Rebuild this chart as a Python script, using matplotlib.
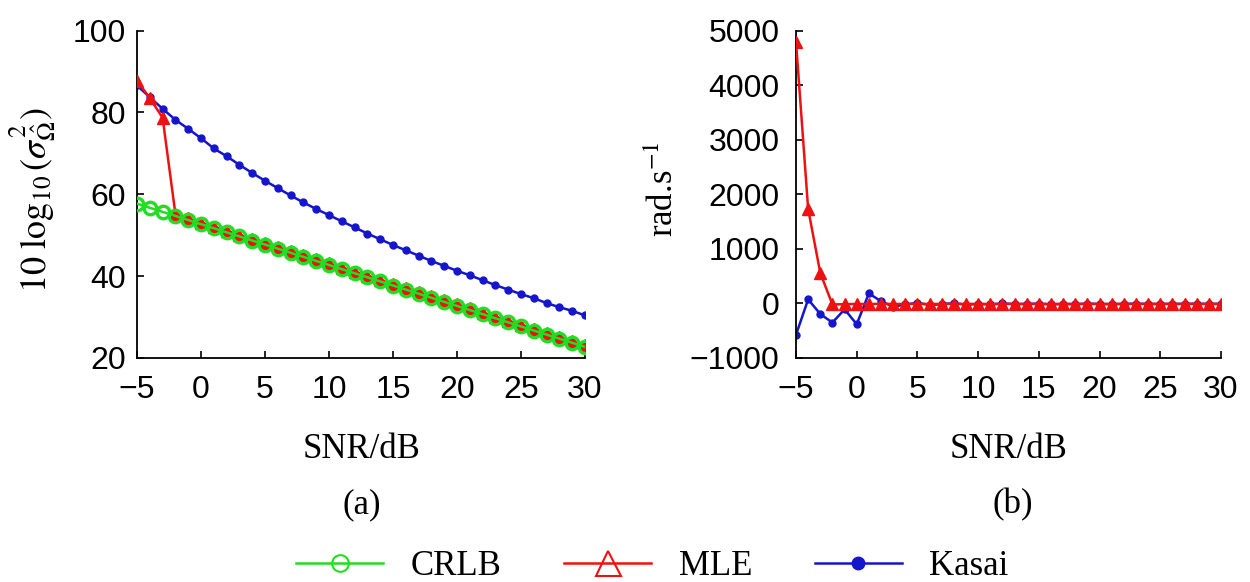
import matplotlib
matplotlib.use("Agg")
import matplotlib.pyplot as plt
from matplotlib.lines import Line2D

plt.rcParams['font.family'] = ['Liberation Sans', 'DejaVu Sans']
plt.rcParams['mathtext.fontset'] = 'stix'

# SNR axis (dB)
snr = list(range(-5, 31))

# (a) variance of the frequency estimate, 10 log10
crlb = [57.7, 56.7, 55.7, 54.7, 53.7, 52.7, 51.7, 50.7, 49.7, 48.7,
        47.7, 46.7, 45.7, 44.7, 43.7, 42.7, 41.7, 40.7, 39.7, 38.7,
        37.7, 36.7, 35.7, 34.7, 33.7, 32.7, 31.7, 30.7, 29.7, 28.7,
        27.7, 26.7, 25.7, 24.7, 23.7, 22.7]
mle = [87.8, 83.5, 78.7, 55.2, 54.1, 53.1, 52.1, 51.1, 50.1, 49.1,
       48.1, 47.1, 46.1, 45.1, 44.1, 43.1, 42.1, 41.1, 40.1, 39.1,
       38.1, 37.1, 36.1, 35.1, 34.1, 33.1, 32.1, 31.1, 30.1, 29.1,
       28.1, 27.1, 26.1, 25.1, 24.1, 23.1]
kasai = [86.6, 83.7, 80.9, 78.2, 76.0, 73.7, 71.2, 69.3, 67.2, 65.2,
         63.3, 61.5, 59.7, 58.0, 56.4, 54.9, 53.4, 51.9, 50.4, 49.0,
         47.6, 46.3, 45.0, 43.7, 42.5, 41.3, 40.2, 39.0, 37.8, 36.7,
         35.6, 34.6, 33.4, 32.4, 31.5, 30.4]

# (b) bias, rad/s
mle_bias = [4800, 1730, 556, -20, -15, -10, -12, -8, -10, -12,
            -9, -10, -11, -8, -10, -9, -12, -10, -8, -10,
            -11, -9, -10, -10, -8, -12, -10, -9, -11, -10,
            -8, -10, -9, -11, -10, -10]
kasai_bias = [-576, 73, -195, -352, -109, -382, 182, 40, -60, -20,
              10, -30, -15, 5, -25, -10, -20, 0, -15, -10,
              -5, -20, -10, -15, -5, -10, -15, -10, -5, -10,
              -12, -8, -10, -6, -10, -8]

green = '#22dd22'
red = '#ee1111'
blue = '#1515cc'
tick_fs = 23
lab_fs = 25

fig = plt.figure(figsize=(12.5, 5.82), dpi=100)
ax1 = fig.add_axes([0.1096, 0.385, 0.3584, 0.5624])
ax2 = fig.add_axes([0.6368, 0.385, 0.34, 0.5624])

ax1.plot(snr, kasai, color=blue, lw=1.8, marker='o', ms=5, zorder=2)
ax1.plot(snr, mle, color=red, lw=1.8, marker='^', ms=9, zorder=3)
ax1.plot(snr, crlb, color=green, lw=1.8, marker='o', ms=9, mfc='none',
         mew=2.4, zorder=4)
ax1.set_xlim(-5, 30)
ax1.set_ylim(20, 100)
ax1.set_yticks([20, 40, 60, 80, 100])

ax2.plot(snr, kasai_bias, color=blue, lw=1.8, marker='o', ms=5, zorder=2)
ax2.plot(snr, mle_bias, color=red, lw=1.8, marker='^', ms=9, zorder=3)
ax2.set_xlim(-5, 30)
ax2.set_ylim(-1000, 5000)
ax2.set_yticks([-1000, 0, 1000, 2000, 3000, 4000, 5000])

for ax in (ax1, ax2):
    ax.set_xticks([-5, 0, 5, 10, 15, 20, 25, 30])
    for s in ('top', 'right'):
        ax.spines[s].set_visible(False)
    for s in ('left', 'bottom'):
        ax.spines[s].set_linewidth(1.3)
    ax.tick_params(direction='in', length=5, width=1.2, labelsize=tick_fs)
    ax.tick_params(axis='x', pad=12)
    ax.patch.set_alpha(0)
ax1.tick_params(axis='y', pad=8)
ax2.tick_params(axis='y', pad=12)

serif = {'family': 'Liberation Serif', 'size': lab_fs}
fig.text(0.289, 0.2285, 'SNR/dB', ha='center', va='center', fontdict=serif)
fig.text(0.807, 0.2285, 'SNR/dB', ha='center', va='center', fontdict=serif)
fig.text(0.289, 0.1323, '(a)', ha='center', va='center', fontdict=serif)
fig.text(0.810, 0.1323, '(b)', ha='center', va='center', fontdict=serif)
fig.text(0.026, 0.656, r'$10\ \log_{10}(\sigma^2_{\hat{\Omega}})$',
         rotation=90, ha='center', va='center', fontsize=26)
fig.text(0.531, 0.674, r'rad.s$^{-1}$', rotation=90, ha='center',
         va='center', fontdict=serif)

handles = [
    Line2D([], [], color=green, lw=1.8, marker='o', ms=12, mfc='none', mew=1.5),
    Line2D([], [], color=red, lw=1.8, marker='^', ms=18, mfc='none', mew=1.5),
    Line2D([], [], color=blue, lw=1.8, marker='o', ms=9),
]
fig.legend(handles, ['CRLB', 'MLE', 'Kasai'], loc='center',
           bbox_to_anchor=(0.522, 0.026), ncol=3, frameon=False,
           prop={'family': 'Liberation Serif', 'size': lab_fs},
           handlelength=2.5, handletextpad=0.8, columnspacing=1.8)

fig.savefig('out.png', dpi=100)
